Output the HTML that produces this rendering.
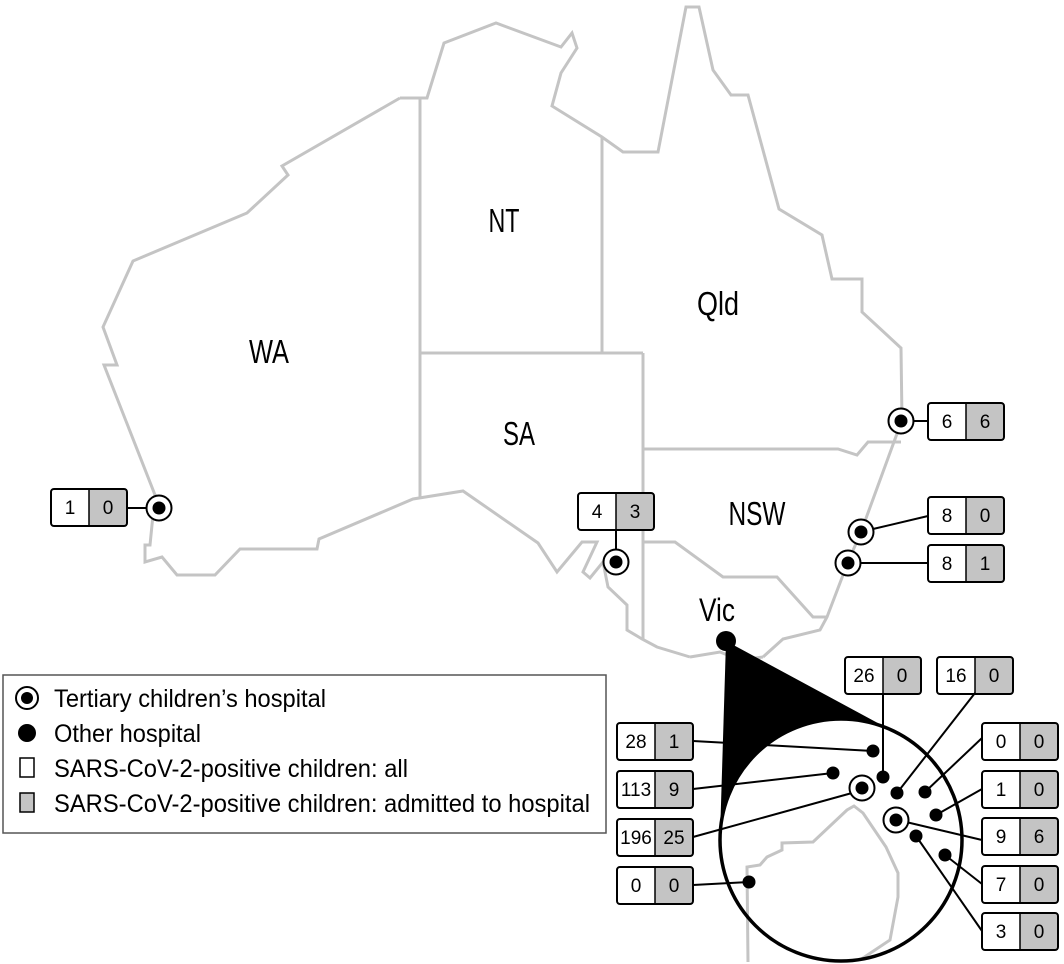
<!DOCTYPE html>
<html><head><meta charset="utf-8"><style>
html,body{margin:0;padding:0;background:#fff;}
svg{display:block;}
.lbl{font-family:"Liberation Sans Narrow","Liberation Sans",sans-serif;fill:#000;}
.bx{font-family:"Liberation Sans Narrow","Liberation Sans",sans-serif;font-size:19px;fill:#000;}
.lg{font-family:"Liberation Sans Narrow","Liberation Sans",sans-serif;font-size:25px;fill:#000;}
</style></head><body>
<svg width="1064" height="964" viewBox="0 0 1064 964" xmlns="http://www.w3.org/2000/svg">
<g fill="none" stroke="#c4c4c4" stroke-width="3" stroke-linejoin="miter">
<path d="M400,98 L427,98 L444,43 L496,23 L561,47 L572,33 L577,48 L561,73 L552,106 L602,137 L623,152 L658,152 L686,7 L699,7 L713,70 L731,95 L748,95 L779,209 L822,235 L832,279 L862,279 L862,312 L901,348 L902,420 L861,532 L848,562 L827,617 L820,630 L783,639 L763,657"/>
<path d="M690,657 L657,647 L642,639 L627,630 L627,605 L608,587 L603,562 L590,578 L583,572 L597,542 L582,542 L557,572 L538,543 L463,491 L413,499 L319,539 L317,549 L240,549 L215,575 L177,575 L162,557 L145,562 L145,545 L150,545 L155,495 L104,365 L117,365 L103,327 L133,261 L247,213 L288,175 L282,166 L400,98"/>
<path d="M763,657 L740,660 L720,652 L690,657"/>
<path d="M420,98 L420,499"/>
<path d="M420,353 L643,353"/>
<path d="M602,137 L602,353"/>
<path d="M643,353 L643,639"/>
<path d="M643,449 L838,449 L857,455 L868,442 L901,442"/>
<path d="M643,542 L675,542 L723,577 L777,577 L813,617 L827,617"/>
</g>
<text class="lbl" x="269" y="363" font-size="33" text-anchor="middle" textLength="40" lengthAdjust="spacingAndGlyphs">WA</text>
<text class="lbl" x="504" y="232" font-size="33" text-anchor="middle" textLength="31" lengthAdjust="spacingAndGlyphs">NT</text>
<text class="lbl" x="718" y="315" font-size="33" text-anchor="middle" textLength="42" lengthAdjust="spacingAndGlyphs">Qld</text>
<text class="lbl" x="519" y="445" font-size="33" text-anchor="middle" textLength="32" lengthAdjust="spacingAndGlyphs">SA</text>
<text class="lbl" x="757" y="525" font-size="33" text-anchor="middle" textLength="57" lengthAdjust="spacingAndGlyphs">NSW</text>
<text class="lbl" x="717" y="621" font-size="32" text-anchor="middle" textLength="36" lengthAdjust="spacingAndGlyphs">Vic</text>

<polygon points="726,641 720,837 841,840 898,734" fill="#000"/>
<circle cx="726" cy="641" r="10" fill="#000"/>
<circle cx="841" cy="840" r="121" fill="#fff" stroke="none"/>
<g fill="none" stroke="#c4c4c4" stroke-width="3">
<path d="M748,962 L747,867 L760,865 L767,857 L782,850 L782,843 L813,842 L847,810 L854,806 L863,813 L886,847 L898,873 L898,897 L890,940 L860,960"/>
</g>
<circle cx="841" cy="840" r="121" fill="none" stroke="#000" stroke-width="3.5"/>

<g stroke="#000" stroke-width="2" fill="none">
<line x1="127" y1="508" x2="147" y2="508"/>
<line x1="616" y1="530" x2="616" y2="550"/>
<line x1="914" y1="421" x2="928" y2="421"/>
<line x1="873" y1="529" x2="928" y2="516"/>
<line x1="860" y1="563" x2="928" y2="563"/>
<line x1="693" y1="741" x2="873" y2="751"/>
<line x1="693" y1="789" x2="833" y2="773"/>
<line x1="693" y1="837" x2="852" y2="793"/>
<line x1="693" y1="885" x2="749" y2="882"/>
<line x1="883" y1="693" x2="883" y2="777"/>
<line x1="975" y1="693" x2="897" y2="793"/>
<line x1="982" y1="738" x2="925" y2="792"/>
<line x1="982" y1="789" x2="936" y2="815"/>
<line x1="982" y1="840" x2="906" y2="822"/>
<line x1="982" y1="884" x2="945" y2="855"/>
<line x1="982" y1="931" x2="916" y2="836"/>
</g>

<g>
<g transform="translate(159,508)"><circle r="12.5" fill="#fff" stroke="#000" stroke-width="2"/><circle r="6.5" fill="#000"/></g>
<g transform="translate(616,562)"><circle r="12.5" fill="#fff" stroke="#000" stroke-width="2"/><circle r="6.5" fill="#000"/></g>
<g transform="translate(901,421)"><circle r="12.5" fill="#fff" stroke="#000" stroke-width="2"/><circle r="6.5" fill="#000"/></g>
<g transform="translate(861,532)"><circle r="12.5" fill="#fff" stroke="#000" stroke-width="2"/><circle r="6.5" fill="#000"/></g>
<g transform="translate(848,563)"><circle r="12.5" fill="#fff" stroke="#000" stroke-width="2"/><circle r="6.5" fill="#000"/></g>
<g transform="translate(862,788)"><circle r="12.5" fill="#fff" stroke="#000" stroke-width="2"/><circle r="6.5" fill="#000"/></g>
<g transform="translate(896,820)"><circle r="12.5" fill="#fff" stroke="#000" stroke-width="2"/><circle r="6.5" fill="#000"/></g>
</g>
<g fill="#000">
<circle cx="873" cy="751" r="6.5"/>
<circle cx="833" cy="773" r="6.5"/>
<circle cx="883" cy="777" r="6.5"/>
<circle cx="897" cy="793" r="6.5"/>
<circle cx="925" cy="792" r="6.5"/>
<circle cx="936" cy="815" r="6.5"/>
<circle cx="916" cy="836" r="6.5"/>
<circle cx="945" cy="855" r="6.5"/>
<circle cx="749" cy="882" r="6.5"/>
</g>

<defs>
<g id="b">
<rect x="38" y="0" width="38" height="37" fill="#c4c4c4"/>
<rect x="0" y="0" width="76" height="37" rx="3" fill="none" stroke="#000" stroke-width="2"/>
<line x1="38" y1="0" x2="38" y2="37" stroke="#000" stroke-width="1.5"/>
</g>
</defs>
<g class="bx" text-anchor="middle">
<use href="#b" x="51" y="489"/><text x="70" y="514">1</text><text x="108" y="514">0</text>
<use href="#b" x="578" y="493"/><text x="597" y="518">4</text><text x="635" y="518">3</text>
<use href="#b" x="928" y="403"/><text x="947" y="428">6</text><text x="985" y="428">6</text>
<use href="#b" x="928" y="497"/><text x="947" y="522">8</text><text x="985" y="522">0</text>
<use href="#b" x="928" y="545"/><text x="947" y="570">8</text><text x="985" y="570">1</text>
<use href="#b" x="617" y="723"/><text x="636" y="748">28</text><text x="674" y="748">1</text>
<use href="#b" x="617" y="771"/><text x="636" y="796">113</text><text x="674" y="796">9</text>
<use href="#b" x="617" y="819"/><text x="636" y="844">196</text><text x="674" y="844">25</text>
<use href="#b" x="617" y="867"/><text x="636" y="892">0</text><text x="674" y="892">0</text>
<use href="#b" x="845" y="657"/><text x="864" y="682">26</text><text x="902" y="682">0</text>
<use href="#b" x="937" y="657"/><text x="956" y="682">16</text><text x="994" y="682">0</text>
<use href="#b" x="982" y="723"/><text x="1001" y="748">0</text><text x="1039" y="748">0</text>
<use href="#b" x="982" y="771"/><text x="1001" y="796">1</text><text x="1039" y="796">0</text>
<use href="#b" x="982" y="818"/><text x="1001" y="843">9</text><text x="1039" y="843">6</text>
<use href="#b" x="982" y="866"/><text x="1001" y="891">7</text><text x="1039" y="891">0</text>
<use href="#b" x="982" y="913"/><text x="1001" y="938">3</text><text x="1039" y="938">0</text>
</g>

<rect x="3" y="675" width="603" height="158" fill="#fff" stroke="#555" stroke-width="1.5"/>
<circle cx="27" cy="698" r="11" fill="#fff" stroke="#000" stroke-width="2"/>
<circle cx="27" cy="698" r="6" fill="#000"/>
<circle cx="27" cy="733" r="9" fill="#000"/>
<rect x="20" y="758" width="14" height="19" fill="#fff" stroke="#000" stroke-width="1.5"/>
<rect x="20" y="793" width="14" height="19" fill="#c4c4c4" stroke="#000" stroke-width="1.5"/>
<text class="lg" x="54" y="707" textLength="272" lengthAdjust="spacingAndGlyphs">Tertiary children’s hospital</text>
<text class="lg" x="54" y="742" textLength="147" lengthAdjust="spacingAndGlyphs">Other hospital</text>
<text class="lg" x="54" y="777" textLength="354" lengthAdjust="spacingAndGlyphs">SARS-CoV-2-positive children: all</text>
<text class="lg" x="54" y="812" textLength="536" lengthAdjust="spacingAndGlyphs">SARS-CoV-2-positive children: admitted to hospital</text>
</svg>
</body></html>
